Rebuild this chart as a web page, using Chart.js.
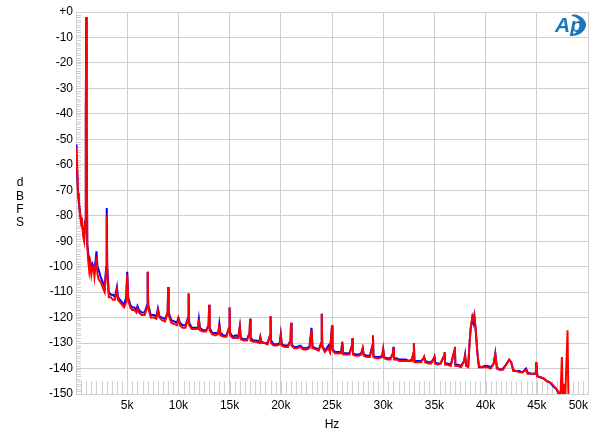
<!DOCTYPE html>
<html>
<head>
<meta charset="utf-8">
<script src="https://cdn.jsdelivr.net/npm/chart.js@4.4.1/dist/chart.umd.min.js"></script>
<style>
  html, body { margin: 0; padding: 0; background: #fff; }
</style>
</head>
<body>
<canvas id="fft" width="600" height="436"></canvas>
<script>
// FFT spectrum, two channels
const freqHz = [
  0, 30, 60, 120, 200, 260, 330, 400, 500, 600, 700, 800, 900, 960, 1000, 1040,
  1100, 1200, 1300, 1400, 1500, 1600, 1700, 1800, 1900, 2000, 2100, 2200, 2400, 2600, 2800,
  2950, 3000, 3050, 3200, 3400, 3600, 3800, 4000, 4100, 4300, 4500, 4700, 4900, 5000, 5100,
  5300, 5500, 5700, 5900, 6000, 6150, 6400, 6700, 6950, 7000, 7050, 7300, 7600, 7850, 8000,
  8150, 8400, 8700, 8950, 9000, 9050, 9300, 9600, 9850, 10000, 10150, 10400, 10700, 10950,
  11000, 11050, 11300, 11600, 11900, 12000, 12100, 12400, 12700, 12950, 13000, 13050, 13300,
  13600, 13900, 14000, 14100, 14400, 14700, 14950, 15000, 15050, 15300, 15600, 15850, 16000,
  16100, 16400, 16700, 16950, 17000, 17050, 17300, 17600, 17900, 18000, 18100, 18400, 18700,
  18950, 19000, 19050, 19300, 19600, 19900, 20000, 20100, 20400, 20700, 20950, 21000, 21050,
  21300, 21600, 21900, 22200, 22500, 22800, 23000, 23100, 23400, 23700, 23950, 24000, 24050,
  24300, 24650, 24800, 24950, 25000, 25050, 25300, 25600, 25900, 26000, 26100, 26400, 26700,
  26950, 27000, 27050, 27300, 27600, 27850, 28000, 28100, 28400, 28700, 28950, 29000, 29050,
  29300, 29600, 29900, 30000, 30100, 30400, 30700, 30950, 31000, 31050, 31300, 31600, 31900,
  32200, 32500, 32800, 32950, 33000, 33050, 33400, 33700, 33950, 34000, 34100, 34400, 34700,
  34950, 35000, 35050, 35300, 35600, 35950, 36000, 36050, 36300, 36600, 36950, 37000, 37050,
  37300, 37600, 37900, 38000, 38100, 38300, 38450, 38550, 38700, 38800, 38900, 39050, 39200,
  39350, 39600, 39900, 40200, 40500, 40800, 40950, 41100, 41400, 41700, 42000, 42300, 42500,
  42700, 43000, 43300, 43600, 43950, 44100, 44400, 44700, 44900, 44950, 45050, 45400, 45700,
  46000, 46300, 46600, 46900, 47100, 47300, 47450, 47550, 47650, 47750, 48000, 48100
];

const blueDb = [
  -52, -55, -57, -64, -71, -74, -77, -79, -82, -84, -86, -88, -82, -40, -2, -45,
  -91, -95, -97, -98, -100, -99, -101, -100, -98, -94, -100, -101, -104, -106, -108,
  -100, -77, -100, -110, -111, -111, -112, -108, -112, -113, -114, -115, -112, -102, -112,
  -115, -116, -116, -117, -115.5, -117, -118, -118, -115, -102, -115, -119, -119, -119.5, -116.5,
  -119.5, -120, -120.5, -118, -108, -118, -121, -121.5, -122, -120, -122, -123, -123, -120,
  -110.5, -122, -124, -124, -124, -120.5, -124, -125, -125, -123, -115, -124, -126,
  -126, -126, -122.5, -126, -127, -127, -124, -116, -126, -127.5, -127, -127.5, -123.5,
  -128, -128.5, -128.5, -126, -120.5, -128, -129, -129, -129.5, -127.5, -129.5, -130, -130,
  -127, -119.5, -129, -130.5, -130.5, -130, -126.5, -130.5, -131, -131, -129, -122, -130.5,
  -131.5, -131.5, -131, -132, -132, -131.5, -124, -131.5, -132, -132.5, -130, -118.5, -131,
  -133, -131, -133, -126, -123, -132.5, -133.5, -133.5, -133.5, -129.5, -134, -134, -134,
  -131, -128, -134, -134.5, -134.5, -134, -132, -134.5, -135, -135, -131, -127, -135,
  -135.5, -135.5, -135, -132.5, -135.5, -136, -136, -134, -131.5, -136, -136, -136.5, -136.5,
  -136.5, -137, -136.5, -134, -130, -137, -137, -137, -136, -135.5, -137, -137.5, -137.5,
  -136, -135.5, -137.5, -138, -138, -135, -133.5, -138, -138, -138.5, -133, -131.5, -138.5,
  -138.5, -139, -137, -134.5, -139, -139, -129, -124, -120, -122, -119.5, -126, -134,
  -139.5, -139.5, -139, -139, -139.5, -138, -134, -139.5, -140.5, -140, -138.5, -136.5, -137.5,
  -140.5, -141, -141, -141.5, -140, -141.5, -142, -142, -142, -137.5, -143, -143.5, -144,
  -145, -145.5, -147, -148, -149.5, -155, null, null, null, null, null, null
];

const redDb = [
  -53, -62, -55, -61, -72, -73, -76, -80, -83, -82, -88, -90, -83, -40, -2, -45,
  -92, -98, -102, -99, -103, -100, -100, -104, -100, -96, -103, -105, -106, -108, -110,
  -101, -80, -102, -112, -112, -113, -113, -109, -113, -114, -115, -116, -114, -103, -113,
  -116, -117, -117, -118, -116.5, -118, -119, -119, -116, -102, -116, -120, -120, -120.5, -117,
  -120, -121, -121.5, -118, -108, -119, -122, -122.5, -123, -120.5, -123, -124, -124, -120,
  -110.5, -123, -124.5, -124.5, -124.5, -120.5, -125, -125.5, -125.5, -123, -115, -125, -126.5,
  -127, -126.5, -122.5, -127, -127.5, -127.5, -124, -116, -127, -128, -128, -128, -123.5,
  -128.5, -129, -129, -126, -120.5, -129, -129.5, -129.5, -130, -128, -130, -130, -130.5,
  -127, -119.5, -130, -131, -131, -130.5, -127, -131, -131.5, -131.5, -129, -122, -131,
  -132, -132, -131.5, -132.5, -132.5, -132, -125, -132, -132.5, -133, -130, -118.5, -131.5,
  -133.5, -132, -133.5, -126, -123, -133, -134, -134, -134, -129.5, -134.5, -134.5, -134.5,
  -131, -128, -134.5, -135, -135, -134.5, -132, -135, -135.5, -135.5, -131, -127, -135.5,
  -136, -136, -135.5, -132.5, -136, -136.5, -136.5, -134, -132, -136.5, -136.5, -137, -137,
  -137, -137, -137, -134, -130, -137.5, -137.5, -137.5, -136, -135.5, -137.5, -138, -138,
  -136, -135.5, -138, -138.5, -138, -135, -133.5, -138.5, -138.5, -139, -133, -131.5, -139,
  -139, -139.5, -137, -135, -139, -139.5, -129, -124, -120, -121, -119, -125, -134,
  -139, -139.5, -139.5, -139.5, -140, -138, -134.5, -140, -140.5, -140.5, -138.5, -136.5, -137.5,
  -141, -141, -141.5, -141.5, -140.5, -142, -142, -142, -142, -137.5, -143, -143.5, -144,
  -145, -145.5, -146.5, -148, -149, -152, -135.5, -155, -146, -155, -125, -155
];

const yTickLabels = ['+0', '-10', '-20', '-30', '-40', '-50', '-60', '-70', '-80', '-90',
  '-100', '-110', '-120', '-130', '-140', '-150'];
const xTickLabels = ['', '5k', '10k', '15k', '20k', '25k', '30k', '35k', '40k', '45k', '50k'];

function toPoints(levels) {
  const pts = [];
  freqHz.forEach((f, i) => { if (levels[i] !== null) pts.push({ x: f, y: levels[i] }); });
  return pts;
}

const FONT = '"Liberation Sans", Arial, sans-serif';
const GRID = '#cfcfcf';

// minor ticks, dBFS label and logo
const extras = {
  id: 'extras',
  beforeDatasetsDraw(chart) {
    const { ctx, chartArea: a, scales: { x, y } } = chart;
    ctx.save();
    ctx.strokeStyle = GRID;
    ctx.lineWidth = 1;
    ctx.beginPath();
    for (let f = 500; f < 50000; f += 500) {
      const px = Math.round(x.getPixelForValue(f)) + 0.5;
      ctx.moveTo(px, y.getPixelForValue(-145));
      ctx.lineTo(px, a.bottom);
    }
    for (let d = -149; d < 0; d++) {
      const py = Math.round(y.getPixelForValue(d)) + 0.5;
      ctx.moveTo(a.left, py);
      ctx.lineTo(a.left + 5, py);
    }
    ctx.stroke();
    ctx.restore();
  },
  afterDraw(chart) {
    const { ctx, chartArea: a } = chart;
    ctx.save();
    ctx.fillStyle = '#000';
    ctx.font = '12px ' + FONT;
    ctx.textAlign = 'center';
    ctx.textBaseline = 'middle';
    const mid = (a.top + a.bottom) / 2;
    'dBFS'.split('').forEach((ch, i) => ctx.fillText(ch, 20, mid - 20 + i * 13.3));

    // Ap logo: letters plus crescent swoosh
    ctx.fillStyle = '#1b75bb';
    ctx.font = 'italic bold 21px ' + FONT;
    ctx.textAlign = 'left';
    ctx.textBaseline = 'alphabetic';
    ctx.fillText('Ap', 555, 32);
    ctx.beginPath();
    ctx.ellipse(571, 25, 15, 11, 0, -1.4, 1.5);
    ctx.ellipse(569, 25, 12, 9.5, 0, 1.5, -1.4, true);
    ctx.closePath();
    ctx.fill();
    ctx.restore();
  }
};

new Chart(document.getElementById('fft'), {
  type: 'scatter',
  data: {
    datasets: [
      { label: 'Right', data: toPoints(redDb), showLine: true, borderColor: '#ff0000', borderWidth: 2, pointRadius: 0 },
      { label: 'Left', data: toPoints(blueDb), showLine: true, borderColor: '#0000ff', borderWidth: 2, pointRadius: 0 }
    ]
  },
  options: {
    responsive: false,
    animation: false,
    devicePixelRatio: 1,
    layout: { padding: { top: 12, right: 12, left: 0, bottom: 0 } },
    plugins: { legend: { display: false }, tooltip: { enabled: false } },
    elements: { line: { tension: 0 } },
    scales: {
      x: {
        type: 'linear', min: 0, max: 50000,
        afterFit: s => { s.height = 42; },
        ticks: {
          stepSize: 5000, align: 'inner', padding: 4, color: '#000', font: { family: FONT, size: 12 },
          callback: v => xTickLabels[Math.round(v / 5000)]
        },
        grid: { color: GRID, drawTicks: false },
        border: { color: GRID },
        title: { display: true, text: 'Hz', color: '#000', font: { family: FONT, size: 12 }, padding: { top: 0, bottom: 4 } }
      },
      y: {
        min: -150, max: 0,
        afterFit: s => { s.width = 76; },
        ticks: {
          stepSize: 10, padding: 3, color: '#000', font: { family: FONT, size: 12 },
          callback: v => yTickLabels[Math.round(-v / 10)]
        },
        grid: { color: GRID, drawTicks: false },
        border: { color: GRID }
      }
    }
  },
  plugins: [extras]
});
</script>
</body>
</html>
